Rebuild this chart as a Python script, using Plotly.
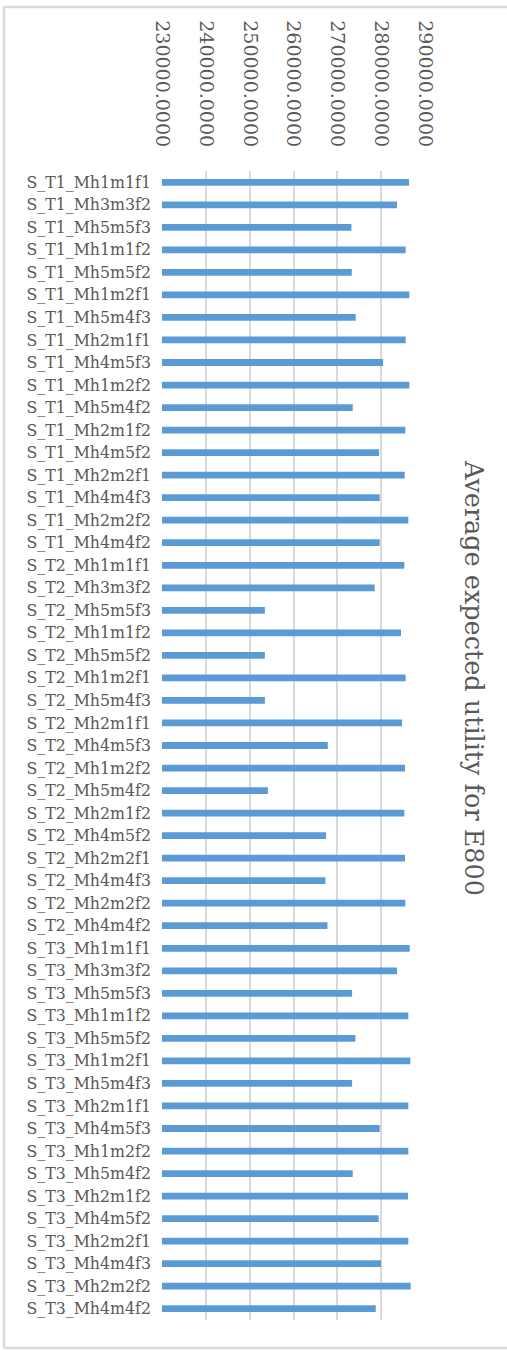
import plotly.graph_objects as go

# Scenario labels, listed top to bottom
categories = [
    "S_T1_Mh1m1f1", "S_T1_Mh3m3f2", "S_T1_Mh5m5f3", "S_T1_Mh1m1f2", "S_T1_Mh5m5f2",
    "S_T1_Mh1m2f1", "S_T1_Mh5m4f3", "S_T1_Mh2m1f1", "S_T1_Mh4m5f3", "S_T1_Mh1m2f2",
    "S_T1_Mh5m4f2", "S_T1_Mh2m1f2", "S_T1_Mh4m5f2", "S_T1_Mh2m2f1", "S_T1_Mh4m4f3",
    "S_T1_Mh2m2f2", "S_T1_Mh4m4f2",
    "S_T2_Mh1m1f1", "S_T2_Mh3m3f2", "S_T2_Mh5m5f3", "S_T2_Mh1m1f2", "S_T2_Mh5m5f2",
    "S_T2_Mh1m2f1", "S_T2_Mh5m4f3", "S_T2_Mh2m1f1", "S_T2_Mh4m5f3", "S_T2_Mh1m2f2",
    "S_T2_Mh5m4f2", "S_T2_Mh2m1f2", "S_T2_Mh4m5f2", "S_T2_Mh2m2f1", "S_T2_Mh4m4f3",
    "S_T2_Mh2m2f2", "S_T2_Mh4m4f2",
    "S_T3_Mh1m1f1", "S_T3_Mh3m3f2", "S_T3_Mh5m5f3", "S_T3_Mh1m1f2", "S_T3_Mh5m5f2",
    "S_T3_Mh1m2f1", "S_T3_Mh5m4f3", "S_T3_Mh2m1f1", "S_T3_Mh4m5f3", "S_T3_Mh1m2f2",
    "S_T3_Mh5m4f2", "S_T3_Mh2m1f2", "S_T3_Mh4m5f2", "S_T3_Mh2m2f1", "S_T3_Mh4m4f3",
    "S_T3_Mh2m2f2", "S_T3_Mh4m4f2",
]

# Average expected utility per scenario
utility = [
    286350, 283620, 273210, 285590, 273290,
    286430, 274200, 285590, 280430, 286430,
    273520, 285520, 279520, 285370, 279670,
    286200, 279670,
    285290, 278530, 253470, 284530, 253470,
    285590, 253470, 284760, 267820, 285440,
    254150, 285290, 267440, 285440, 267290,
    285520, 267750,
    286500, 283620, 273370, 286200, 274130,
    286660, 273370, 286200, 279670, 286200,
    273520, 286130, 279440, 286200, 279970,
    286730, 278760,
]

x_ticks = [230000, 240000, 250000, 260000, 270000, 280000, 290000]
title_text = "Average expected utility for E800"

W, H = 507, 1351
L, R, T, B = 162, 82, 171, 31

font_family = "DejaVu Serif"
text_grey = "#595959"
grid_grey = "#D9D9D9"

fig = go.Figure(
    go.Bar(
        x=utility,
        y=categories,
        orientation="h",
        marker=dict(color="#5B9BD5", line=dict(width=0)),
        base=0,
    )
)

fig.update_layout(
    width=W,
    height=H,
    margin=dict(l=L, r=R, t=T, b=B, pad=0),
    paper_bgcolor="white",
    plot_bgcolor="white",
    bargap=0.7,
    showlegend=False,
    font=dict(family=font_family, color=text_grey),
)

fig.update_xaxes(
    side="top",
    range=[x_ticks[0], x_ticks[-1]],
    tickvals=x_ticks,
    tickformat=".4f",
    tickangle=90,
    tickfont=dict(size=19, color=text_grey, family=font_family),
    showgrid=True,
    gridcolor=grid_grey,
    gridwidth=1.5,
    zeroline=False,
    showline=False,
    ticks="",
    ticklabelstandoff=20,
)

fig.update_yaxes(
    autorange="reversed",
    tickfont=dict(size=15.8, color=text_grey, family=font_family),
    showgrid=False,
    showline=False,
    ticks="",
    ticklabelstandoff=10,
)

# Axis title placed on the right, reading top to bottom
plot_w = W - L - R
plot_h = H - T - B
fig.add_annotation(
    text=title_text,
    textangle=90,
    xref="paper",
    yref="paper",
    x=(474 - L) / plot_w,
    y=(H - B - 678) / plot_h,
    xanchor="center",
    yanchor="middle",
    showarrow=False,
    font=dict(size=25.5, color=text_grey, family=font_family),
)

# Light grey chart-area frame
def px_x(px):
    return (px - L) / plot_w


def px_y(py):
    return (H - B - py) / plot_h


frame = dict(color=grid_grey, width=2.5)
fig.add_shape(type="line", xref="paper", yref="paper",
              x0=px_x(4), x1=px_x(4), y0=px_y(7), y1=px_y(1348), line=frame)
fig.add_shape(type="line", xref="paper", yref="paper",
              x0=px_x(4), x1=px_x(W + 5), y0=px_y(7), y1=px_y(7), line=frame)
fig.add_shape(type="line", xref="paper", yref="paper",
              x0=px_x(4), x1=px_x(W + 5), y0=px_y(1348), y1=px_y(1348), line=frame)

fig.write_html("out.html")
